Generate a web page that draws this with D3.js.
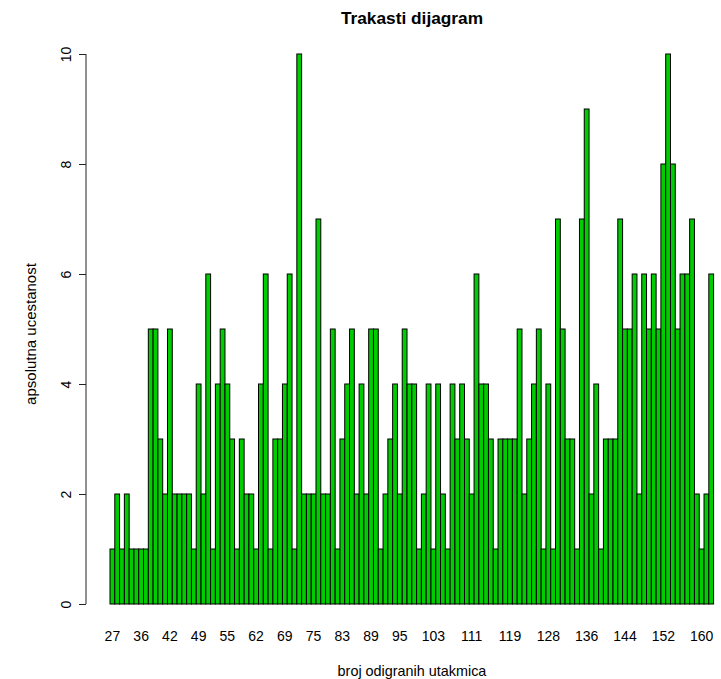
<!DOCTYPE html>
<html>
<head>
<meta charset="utf-8">
<script src="https://cdn.jsdelivr.net/npm/d3@7"></script>
<style>
    body { margin: 0; background: #fff; }
    svg { display: block; font-family: "Liberation Sans", Arial, sans-serif; }
</style>
</head>
<body>
<svg id="chart" width="721" height="679"></svg>
<script>
// broj odigranih utakmica (only the values present in the data)
const categories = [
    27, 28, 30, 31, 33, 35,
    36, 37, 38, 39, 40, 41,
    42, 43, 44, 45, 47, 48,
    49, 50, 51, 52, 53, 54,
    55, 56, 57, 58, 59, 61,
    62, 63, 64, 66, 67, 68,
    69, 70, 71, 72, 73, 74,
    75, 76, 78, 79, 80, 82,
    83, 84, 85, 86, 87, 88,
    89, 90, 91, 92, 93, 94,
    95, 96, 97, 98, 99, 101, 102,
    103, 104, 105, 106, 107, 108, 109, 110,
    111, 112, 113, 114, 115, 116, 117, 118,
    119, 120, 121, 122, 123, 125, 126, 127,
    128, 129, 130, 131, 132, 133, 134, 135,
    136, 137, 138, 139, 140, 141, 142, 143,
    144, 145, 146, 147, 148, 149, 150, 151,
    152, 153, 154, 155, 156, 157, 158, 159,
    160, 161, 162
];

// apsolutna ucestanost
const counts = [
    1, 2, 1, 2, 1, 1, 1, 1, 5, 5, 3, 2, 5, 2, 2, 2, 2, 1, 4, 2, 6,
    1, 4, 5, 4, 3, 1, 3, 2, 2, 1, 4, 6, 1, 3, 3, 4, 6, 1, 10,
    2, 2, 2, 7, 2, 2, 5, 1, 3, 4, 5, 2, 4, 2, 5, 5, 1, 2, 3, 4, 2, 5, 4, 4,
    1, 2, 4, 1, 4, 2, 1, 4, 3, 4, 3, 2, 6, 4, 4, 3, 1, 3, 3, 3, 3, 5, 2,
    3, 4, 5, 1, 4, 1, 7, 5, 3, 3, 1, 7, 9, 2, 4, 1, 3, 3, 3, 7, 5, 5,
    6, 2, 6, 5, 6, 5, 8, 10, 8, 5, 6, 6, 7, 2, 1, 2, 6
];

// labels R managed to fit under the bars
const shownLabels = [27, 36, 42, 49, 55, 62, 69, 75, 83, 89, 95, 103, 111, 119, 128, 136, 144, 152, 160];
const yTicks = [0, 2, 4, 6, 8, 10];

const data = categories.map((c, i) => ({cat: c, value: counts[i]}));

const svg = d3.select("#chart");

const x = d3.scaleBand()
    .domain(categories)
    .range([110, 713.6])
    .padding(0);

const y = d3.scaleLinear()
    .domain([0, 10])
    .range([604, 54]);

// bars
svg.append("g")
    .selectAll("rect")
    .data(data)
    .join("rect")
    .attr("x", d => x(d.cat))
    .attr("y", d => y(d.value))
    .attr("width", x.bandwidth())
    .attr("height", d => y(0) - y(d.value))
    .attr("fill", "#00CD00")
    .attr("stroke", "#000")
    .attr("stroke-width", 1);

// x axis (no line, labels only)
const xAxis = svg.append("g")
    .attr("transform", "translate(0,622)")
    .call(d3.axisBottom(x).tickValues(shownLabels).tickSize(0).tickPadding(0));
xAxis.select(".domain").remove();
xAxis.selectAll("text")
    .attr("dy", null)
    .attr("y", 0)
    .attr("dominant-baseline", "central")
    .attr("transform", "translate(0,14)")
    .style("font-size", "14px")
    .attr("fill", "#000");

// y axis
const yAxis = svg.append("g")
    .attr("transform", "translate(86,0)")
    .call(d3.axisLeft(y).tickValues(yTicks).tickSize(7).tickFormat(d3.format("d")));
yAxis.select(".domain").attr("stroke", "#222").attr("d", "M0," + y(0) + "V" + y(10));
yAxis.selectAll(".tick line").attr("stroke", "#222");
yAxis.selectAll("text")
    .attr("x", 0)
    .attr("dy", null)
    .attr("text-anchor", "middle")
    .attr("dominant-baseline", "central")
    .attr("transform", "translate(-20,0) rotate(-90)")
    .style("font-size", "14px")
    .attr("fill", "#000");

// title and axis titles
svg.append("text")
    .attr("x", 412).attr("y", 18)
    .attr("text-anchor", "middle")
    .attr("dominant-baseline", "central")
    .style("font-size", "17.3px")
    .style("font-weight", "bold")
    .text("Trakasti dijagram");

svg.append("text")
    .attr("x", 412).attr("y", 671)
    .attr("text-anchor", "middle")
    .attr("dominant-baseline", "central")
    .style("font-size", "14.4px")
    .text("broj odigranih utakmica");

svg.append("text")
    .attr("transform", "translate(30,334) rotate(-90)")
    .attr("text-anchor", "middle")
    .attr("dominant-baseline", "central")
    .style("font-size", "15px")
    .text("apsolutna ucestanost");
</script>
</body>
</html>
